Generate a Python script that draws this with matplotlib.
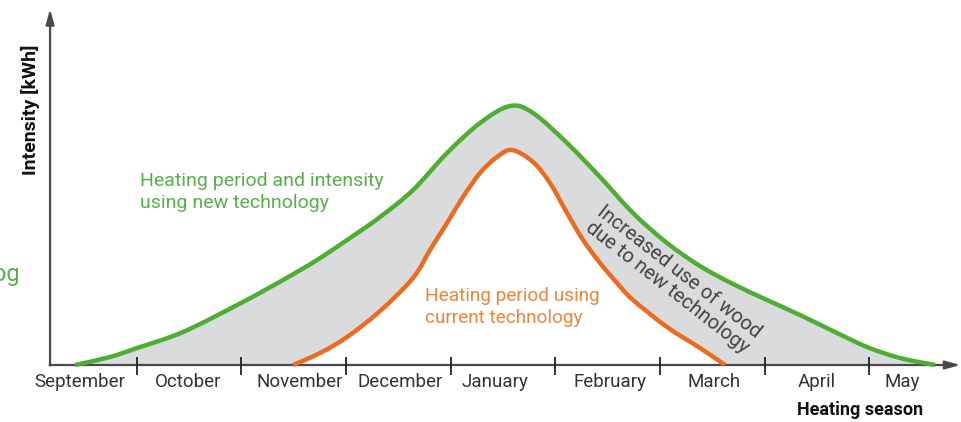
import numpy as np
import matplotlib
matplotlib.use("Agg")
import matplotlib.pyplot as plt
from matplotlib.path import Path
from matplotlib.patches import PathPatch

plt.rcParams["font.family"] = ["Roboto", "DejaVu Sans"]

# DATA (x in months: tick k = boundary k, September starts at 0)
months = ["September", "October", "November", "December", "January",
          "February", "March", "April", "May"]
month_label_x = [0.46, 1.49, 2.56, 3.52, 4.42, 5.52, 6.52, 7.50, 8.31]
month_bounds = [1, 2, 3, 4, 5, 6, 7, 8]

new_x = [0.413, 0.747, 1.005, 1.444, 1.998, 2.399, 2.724, 3.039, 3.326, 3.641,
         3.966, 4.281, 4.568, 4.787, 5.112, 5.427, 5.742, 6.067, 6.382, 6.697,
         7.022, 7.337, 7.652, 7.977, 8.292, 8.627]
new_y = [0.00, 0.08, 0.17, 0.33, 0.62, 0.85, 1.05, 1.27, 1.48, 1.75,
         2.12, 2.42, 2.59, 2.52, 2.22, 1.88, 1.52, 1.22, 0.99, 0.81,
         0.65, 0.50, 0.34, 0.18, 0.07, 0.00]

cur_x = [2.495, 2.753, 3.011, 3.326, 3.641, 3.803, 3.966, 4.118, 4.281, 4.443,
         4.587, 4.787, 4.949, 5.112, 5.265, 5.427, 5.589, 5.742, 6.067, 6.382, 6.621]
cur_y = [0.00, 0.12, 0.28, 0.54, 0.87, 1.15, 1.42, 1.68, 1.92, 2.08,
         2.15, 2.03, 1.82, 1.52, 1.25, 1.02, 0.82, 0.65, 0.38, 0.17, 0.00]

GREEN = "#4caf32"
ORANGE = "#ee6a1f"
GREY = "#dadbdd"
AXIS = "#4a4a4a"


def smooth_path(xs, ys, close=False):
    # Catmull-Rom through the read points, drawn as cubic Bezier segments
    p = np.column_stack([xs, ys])
    ext = np.vstack([p[0], p, p[-1]])
    verts = [p[0]]
    codes = [Path.MOVETO]
    for i in range(1, len(ext) - 2):
        c1 = ext[i] + (ext[i + 1] - ext[i - 1]) / 6
        c2 = ext[i + 1] - (ext[i + 2] - ext[i]) / 6
        verts += [c1, c2, ext[i + 1]]
        codes += [Path.CURVE4] * 3
    if close:
        verts += [p[0]]
        codes += [Path.CLOSEPOLY]
    return Path(verts, codes)


fig = plt.figure(figsize=(9.61, 4.22), dpi=100)
ax = fig.add_axes([0, 0, 1, 1])
ax.set_xlim(-0.304, 8.875)
ax.set_ylim(-0.57, 3.65)
ax.axis("off")

# shaded gap between the curves
ax.add_patch(PathPatch(smooth_path(new_x, new_y, close=True), fc=GREY, ec="none", zorder=1))
ax.add_patch(PathPatch(smooth_path(cur_x, cur_y, close=True), fc="white", ec="none", zorder=2))

ax.add_patch(PathPatch(smooth_path(new_x, new_y), fc="none", ec=GREEN, lw=3.2, zorder=4))
ax.add_patch(PathPatch(smooth_path(cur_x, cur_y), fc="none", ec=ORANGE, lw=3.2, zorder=4))

# axes with arrows
y0 = 0.174
ax.annotate("", xy=(y0, 3.56), xytext=(y0, -0.005),
            arrowprops=dict(arrowstyle="-|>,head_length=0.9,head_width=0.25",
                            color=AXIS, lw=1.6, shrinkA=0, shrinkB=0), zorder=3)
ax.annotate("", xy=(8.87, 0), xytext=(y0 - 0.005, 0),
            arrowprops=dict(arrowstyle="-|>,head_length=0.9,head_width=0.25",
                            color=AXIS, lw=1.6, shrinkA=0, shrinkB=0), zorder=3)
ax.vlines(month_bounds, -0.10, 0.08, color="#222222", lw=1.3, zorder=3)

for x, m in zip(month_label_x, months):
    ax.text(x, -0.17, m, ha="center", va="center", fontsize=13.5, color="#333333")

ax.text(7.91, -0.45, "Heating season", ha="center", va="center",
        fontsize=13, fontweight="bold", color="#111111")
fig.text(30 / 961, 1 - 110 / 422, "Intensity [kWh]", rotation=90,
         ha="center", va="center", fontsize=14, fontweight="bold", color="#111111")

fig.text(140 / 961, 1 - 192 / 422, "Heating period and intensity\nusing new technology",
         ha="left", va="center", fontsize=14, color="#55b04a", linespacing=1.35)
fig.text(425 / 961, 1 - 307 / 422, "Heating period using\ncurrent technology",
         ha="left", va="center", fontsize=13.7, color="#f0843c", linespacing=1.35)
fig.text(673 / 961, 1 - 280 / 422, "Increased use of wood\ndue to new technology",
         ha="center", va="center", fontsize=14.5, color="#444444",
         rotation=-38, rotation_mode="anchor", linespacing=1.05)

# clipped fragment at the left edge
fig.text(-7 / 961, 1 - 274 / 422, "og", ha="left", va="center",
         fontsize=17, color="#55b04a")

fig.savefig("out.png", dpi=100)
